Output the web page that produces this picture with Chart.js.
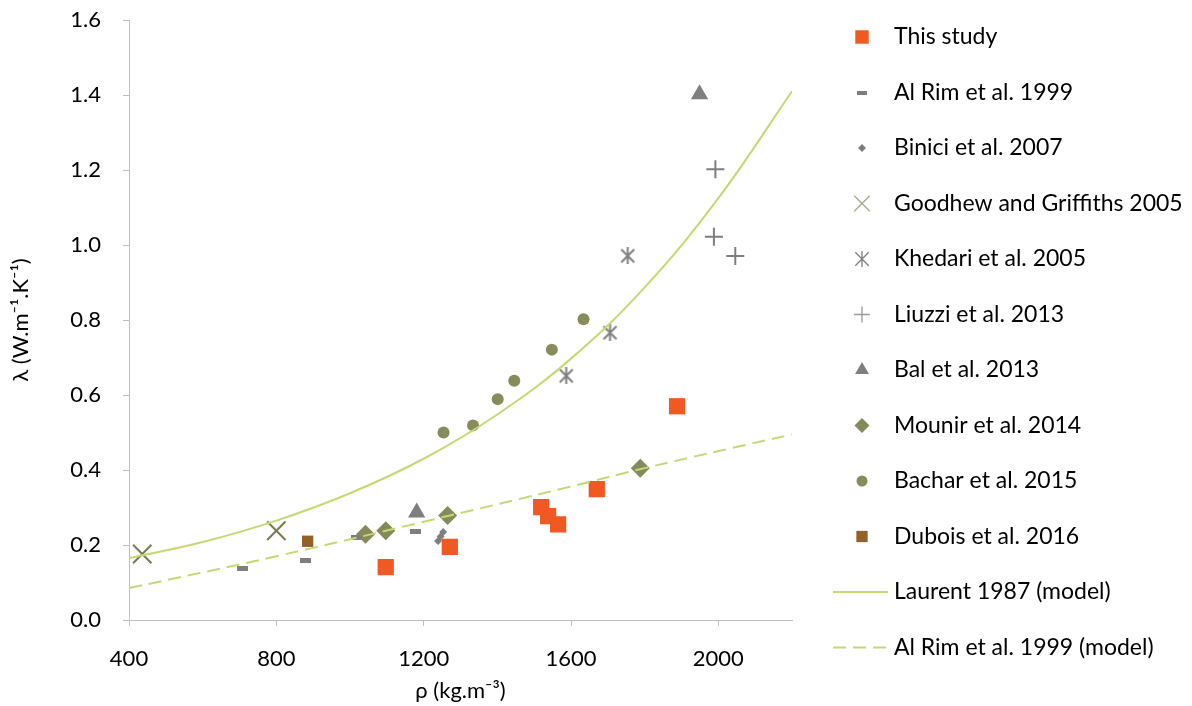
<!DOCTYPE html>
<html>
<head>
<meta charset="utf-8">
<script src="https://cdn.jsdelivr.net/npm/chart.js@4.4.1/dist/chart.umd.min.js"></script>
<style>
  html, body { margin: 0; padding: 0; background: #fff; }
  #wrap { width: 1192px; height: 706px; position: relative; }
</style>
</head>
<body>
<div id="wrap"><canvas id="chart"></canvas></div>
<script>
// x = density rho (kg.m-3), y = thermal conductivity lambda (W.m-1.K-1)
const thisStudyRho    = [1097, 1271, 1519, 1538, 1565, 1670, 1888];
const thisStudyLambda = [0.141, 0.195, 0.301, 0.277, 0.255, 0.349, 0.570];

const alRimRho    = [708, 880, 1018, 1179];
const alRimLambda = [0.137, 0.159, 0.219, 0.237];

const biniciRho    = [1239, 1246, 1253];
const biniciLambda = [0.211, 0.223, 0.235];

const goodhewRho    = [436, 800];
const goodhewLambda = [0.176, 0.238];

const khedariRho    = [1587, 1706, 1754];
const khedariLambda = [0.651, 0.766, 0.971];

const liuzziRho    = [1992, 1988, 2046];
const liuzziLambda = [1.202, 1.022, 0.971];

const balRho    = [1181, 1949];
const balLambda = [0.287, 1.402];

const mounirRho    = [1042, 1097, 1265, 1788];
const mounirLambda = [0.229, 0.238, 0.279, 0.405];

const bacharRho    = [1254, 1334, 1401, 1446, 1548, 1634];
const bacharLambda = [0.500, 0.519, 0.589, 0.638, 0.721, 0.802];

const duboisRho    = [885];
const duboisLambda = [0.210];

// model curves
const laurentRho    = [400, 600, 800, 1000, 1200, 1400, 1600, 1800, 2000, 2200];
const laurentLambda = [0.165, 0.208, 0.265, 0.338, 0.430, 0.548, 0.697, 0.887, 1.125, 1.410];

const alRimModelRho    = [400, 800, 1200, 1600, 1800, 2200];
const alRimModelLambda = [0.085, 0.170, 0.262, 0.356, 0.405, 0.495];

const xTicks = [400, 800, 1200, 1600, 2000];

const FONT = "Lato, 'Liberation Sans', sans-serif";
const GRAY = "#7f7f7f";
const GREEN = "#c3da74";

function pts(xs, ys) {
  return xs.map((x, i) => ({ x, y: ys[i] }));
}

// small canvases for the markers Chart.js has no shape for
function dashMarker(w, h) {
  const c = document.createElement("canvas");
  c.width = w; c.height = h;
  const g = c.getContext("2d");
  g.fillStyle = GRAY;
  g.fillRect(0, 0, w, h);
  return c;
}

function asteriskMarker(size, lw) {
  const c = document.createElement("canvas");
  c.width = size; c.height = size;
  const g = c.getContext("2d");
  const m = lw;
  g.strokeStyle = GRAY;
  g.lineWidth = lw;
  g.beginPath();
  g.moveTo(m, m); g.lineTo(size - m, size - m);
  g.moveTo(size - m, m); g.lineTo(m, size - m);
  g.moveTo(size / 2, 0); g.lineTo(size / 2, size);
  g.stroke();
  return c;
}

function scatterSet(label, xs, ys, style, radius, fill, stroke, bw, legend) {
  return {
    label,
    data: pts(xs, ys),
    showLine: false,
    pointStyle: style,
    pointRadius: radius,
    pointHoverRadius: radius,
    pointBackgroundColor: fill,
    pointBorderColor: stroke,
    pointBorderWidth: bw,
    order: 1,
    legendMarker: legend,
  };
}

const datasets = [
  scatterSet("This study", thisStudyRho, thisStudyLambda, "rect", 11.5, "#f05a22", "#f05a22", 0,
    { style: "rect", radius: 9.5 }),
  scatterSet("Al Rim et al. 1999", alRimRho, alRimLambda, dashMarker(11, 5), 5, GRAY, GRAY, 0,
    { style: dashMarker(10, 4), radius: 5 }),
  scatterSet("Binici et al. 2007", biniciRho, biniciLambda, "rectRot", 4, GRAY, GRAY, 0,
    { style: "rectRot", radius: 4 }),
  scatterSet("Goodhew and Griffiths 2005", goodhewRho, goodhewLambda, "crossRot", 13, "#7a7a55", "#7a7a55", 2,
    { style: "crossRot", radius: 11, color: "#a8a890", bw: 1.3 }),
  scatterSet("Khedari et al. 2005", khedariRho, khedariLambda, asteriskMarker(17, 2), 9, GRAY, GRAY, 0,
    { style: asteriskMarker(16, 1.3), radius: 8 }),
  scatterSet("Liuzzi et al. 2013", liuzziRho, liuzziLambda, "cross", 9, GRAY, GRAY, 2,
    { style: "cross", radius: 8, color: "#9a9a9a", bw: 1.3 }),
  scatterSet("Bal et al. 2013", balRho, balLambda, "triangle", 10, GRAY, GRAY, 0,
    { style: "triangle", radius: 8 }),
  scatterSet("Mounir et al. 2014", mounirRho, mounirLambda, "rectRot", 9.5, "#868a5a", "#868a5a", 0,
    { style: "rectRot", radius: 7.5 }),
  scatterSet("Bachar et al. 2015", bacharRho, bacharLambda, "circle", 6, "#878c5a", "#878c5a", 0,
    { style: "circle", radius: 5.5 }),
  scatterSet("Dubois et al. 2016", duboisRho, duboisLambda, "rect", 8, "#93602a", "#93602a", 0,
    { style: "rect", radius: 8 }),
  {
    label: "Laurent 1987 (model)",
    data: pts(laurentRho, laurentLambda),
    showLine: true,
    borderColor: GREEN,
    borderWidth: 2,
    pointRadius: 0,
    tension: 0.4,
    order: 0,
    legendLine: [],
  },
  {
    label: "Al Rim et al. 1999 (model)",
    data: pts(alRimModelRho, alRimModelLambda),
    showLine: true,
    borderColor: GREEN,
    borderWidth: 2,
    borderDash: [13, 7],
    pointRadius: 0,
    tension: 0.4,
    order: 0,
    legendLine: [13, 7],
  },
];

// legend drawn by hand to get Excel-like spacing and markers
const sideLegend = {
  id: "sideLegend",
  afterDraw(chart) {
    const ctx = chart.ctx;
    ctx.save();
    chart.data.datasets.forEach((ds, i) => {
      const y = 37 + 55.5 * i;
      if (ds.legendLine) {
        ctx.strokeStyle = ds.borderColor;
        ctx.lineWidth = 2;
        ctx.setLineDash(ds.legendLine);
        ctx.beginPath();
        ctx.moveTo(833, y);
        ctx.lineTo(888, y);
        ctx.stroke();
        ctx.setLineDash([]);
      } else {
        const m = ds.legendMarker;
        const col = m.color || ds.pointBackgroundColor;
        ctx.fillStyle = col;
        ctx.strokeStyle = col;
        ctx.lineWidth = m.bw || 1;
        ctx.beginPath();
        Chart.helpers.drawPoint(ctx, {
          pointStyle: m.style,
          radius: m.radius,
          rotation: 0,
          borderWidth: m.bw || 0,
        }, 862, y);
      }
      ctx.fillStyle = "#000";
      ctx.font = "23px " + FONT;
      ctx.textBaseline = "middle";
      ctx.textAlign = "left";
      ctx.fillText(ds.label, 894, y);
    });
    ctx.restore();
  },
};

const axisGrid = {
  drawOnChartArea: false,
  drawTicks: true,
  tickLength: 6,
  color: "#bfbfbf",
};

new Chart(document.getElementById("chart"), {
  type: "scatter",
  data: { datasets },
  plugins: [sideLegend],
  options: {
    responsive: true,
    maintainAspectRatio: false,
    animation: false,
    layout: { padding: { left: 0, right: 400, top: 20, bottom: 0 } },
    plugins: {
      legend: { display: false },
      tooltip: { enabled: false },
    },
    scales: {
      x: {
        type: "linear",
        min: 400,
        max: 2200,
        grid: axisGrid,
        border: { color: "#bfbfbf", width: 1 },
        afterBuildTicks: s => { s.ticks = xTicks.map(v => ({ value: v })); },
        afterFit: s => { s.height = 86; s.paddingLeft = 0; s.paddingRight = 0; },
        ticks: {
          font: { size: 22, family: FONT },
          color: "#000",
          padding: 20,
          callback: v => String(v),
        },
        title: {
          display: true,
          text: "\u03C1 (kg.m\u207B\u00B3)",
          font: { size: 22, family: FONT },
          color: "#000",
          padding: { top: 0, bottom: 2 },
        },
      },
      y: {
        min: 0,
        max: 1.6,
        grid: axisGrid,
        border: { color: "#bfbfbf", width: 1 },
        afterFit: s => { s.width = 129; s.paddingTop = 0; s.paddingBottom = 0; },
        ticks: {
          stepSize: 0.2,
          font: { size: 22, family: FONT },
          color: "#000",
          padding: 22,
          callback: v => v.toFixed(1),
        },
        title: {
          display: true,
          text: "\u03BB (W.m\u207B\u00B9.K\u207B\u00B9)",
          font: { size: 22, family: FONT },
          color: "#000",
          padding: { top: 8, bottom: 0 },
        },
      },
    },
  },
});
</script>
</body>
</html>
